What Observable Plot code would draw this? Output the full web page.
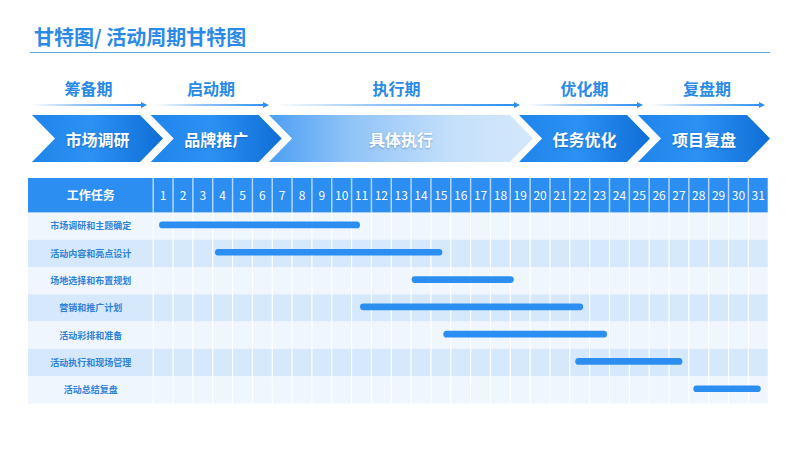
<!DOCTYPE html>
<html><head><meta charset="utf-8">
<script src="https://cdn.jsdelivr.net/npm/d3@7"></script>
<script src="https://cdn.jsdelivr.net/npm/@observablehq/plot@0.6"></script>
<style>
body{margin:0;background:#fff;font-family:"Noto Sans CJK SC","Noto Sans",sans-serif;}
#page{position:relative;width:800px;height:450px;overflow:hidden;background:#fff;}
.title{position:absolute;left:34px;top:24px;font-size:20px;font-weight:700;color:#2b8ae8;line-height:26px;white-space:nowrap;}
.rule{position:absolute;left:30px;top:51.5px;width:740px;height:1.5px;background:#5ba7e0;}
.phase{position:absolute;top:78px;font-size:16px;font-weight:700;color:#2a8ae6;transform:translateX(-50%);line-height:20px;white-space:nowrap;}
.arrow{position:absolute;top:104px;height:1.5px;background:linear-gradient(90deg,rgba(43,142,240,0),rgba(43,142,240,0.5) 40%,#2b8ef0);}
.arrow::after{content:"";position:absolute;right:-2px;top:-2.5px;border-left:6px solid #2b8ef0;border-top:3.25px solid transparent;border-bottom:3.25px solid transparent;}
.chev{position:absolute;top:115px;height:47px;display:flex;align-items:center;justify-content:center;color:#fff;font-size:16px;font-weight:700;text-shadow:0 1px 2px rgba(0,40,110,0.3);
clip-path:polygon(0 0,calc(100% - 23px) 0,100% 50%,calc(100% - 23px) 100%,0 100%,23px 50%);
background:linear-gradient(90deg,#2085eb 0%,#2b91f3 45%,#0f6ed6 100%);}
.chev.light{background:linear-gradient(90deg,#4c9ff2 0%,#8fc3f8 30%,#c5e0fb 70%,#d4e8fc 100%);}
#table{position:absolute;left:0;top:178px;}
</style></head>
<body><div id="page">
<div class="title">甘特图/ 活动周期甘特图</div>
<div class="rule"></div>
<div id="table"></div>
</div>
<script>
// ---- data ----
const phases = ["筹备期", "启动期", "执行期", "优化期", "复盘期"];
const stages = ["市场调研", "品牌推广", "具体执行", "任务优化", "项目复盘"];
const headerLabel = "工作任务";
const tasks = ["市场调研和主题确定", "活动内容和亮点设计", "场地选择和布置规划", "营销和推广计划", "活动彩排和准备", "活动执行和现场管理", "活动总结复盘"];
const startDay = [0.32, 3.14, 13.05, 10.45, 14.65, 21.3, 27.25];
const endDay = [10.45, 14.6, 18.2, 21.7, 22.9, 26.7, 30.65];
const days = d3.range(1, 32);

// ---- phase banner (layout) ----
const arrowSeg = [[32, 145], [155, 267], [275, 518], [528, 641], [651, 763]];
const chevLeft = [32, 150.7, 269, 519, 638];
const chevWidth = [131, 131, 264, 131, 132];
const page = document.getElementById("page");
phases.forEach((p, i) => {
  const [a, b] = arrowSeg[i];
  const lab = document.createElement("div");
  lab.className = "phase"; lab.textContent = p; lab.style.left = ((a + b) / 2) + "px";
  page.appendChild(lab);
  const ar = document.createElement("div");
  ar.className = "arrow"; ar.style.left = a + "px"; ar.style.width = (b - a) + "px";
  page.appendChild(ar);
  const ch = document.createElement("div");
  ch.className = "chev" + (i === 2 ? " light" : "");
  ch.textContent = stages[i];
  ch.style.left = chevLeft[i] + "px"; ch.style.width = chevWidth[i] + "px";
  page.appendChild(ch);
});

// ---- gantt table ----
const left = 28, right = 767.7, dayStart = 152.7;
const colW = (right - dayStart) / 31;
const labelSpan = (dayStart - left) / colW;
const rowH = 27.3, hdr = 34.4 / rowH;
const font = "Noto Sans CJK SC";
const rows = tasks.map((t, i) => ({t, i, s: startDay[i], e: endDay[i]}));

const chart = Plot.plot({
  width: 800, height: 226,
  marginLeft: left, marginRight: 800 - right, marginTop: 0, marginBottom: 0,
  x: {domain: [-labelSpan, 31], axis: null},
  y: {domain: [0, hdr + 7], range: [0, 225.5], axis: null},
  style: {background: "transparent", fontFamily: font},
  marks: [
    Plot.rect(rows, {x1: () => -labelSpan, x2: () => 31, y1: d => hdr + d.i, y2: d => hdr + d.i + 1,
      fill: d => d.i % 2 ? "#d5e8fc" : "#eff6fe"}),
    Plot.rect([0], {x1: () => -labelSpan, x2: () => 31, y1: () => 0, y2: () => hdr, fill: "#2b8ef0"}),
    Plot.ruleX(d3.range(0, 31), {y1: () => 0, y2: () => hdr, stroke: "#b3d7fb", strokeWidth: 1.5}),
    Plot.ruleX(d3.range(0, 31), {y1: () => hdr, y2: () => hdr + 7, stroke: "#ffffff", strokeWidth: 1.2}),
    Plot.text([headerLabel], {x: () => -labelSpan / 2, y: () => hdr / 2, text: d => d, fill: "#fff",
      fontWeight: "bold", fontSize: 12, fontFamily: font}),
    Plot.text(days, {x: d => d - 0.5, y: () => hdr / 2, text: d => String(d), fill: "#fff",
      fontSize: 12, fontFamily: font}),
    Plot.text(rows, {x: () => -labelSpan / 2, y: d => hdr + d.i + 0.5, text: "t", fill: "#2f82d9",
      fontWeight: "bold", fontSize: 9, fontFamily: font}),
    Plot.rect(rows, {x1: "s", x2: "e", y1: d => hdr + d.i, y2: d => hdr + d.i + 1,
      insetTop: 9.2, insetBottom: 11.4, rx: 3.35, fill: "#2b8ef0"})
  ]
});
document.getElementById("table").appendChild(chart);
</script>
</body></html>
